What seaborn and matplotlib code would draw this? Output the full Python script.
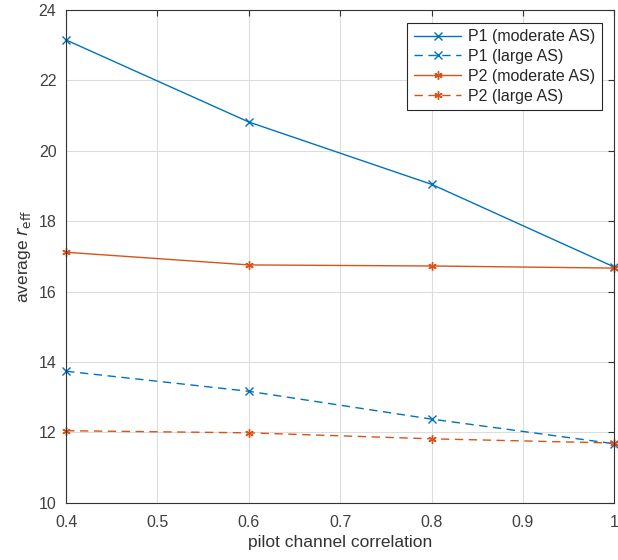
import pandas as pd
import seaborn as sns
import matplotlib.pyplot as plt

# データ
corr = [0.4, 0.6, 0.8, 1.0]
p1_moderate = [23.15, 20.82, 19.05, 16.70]
p1_large = [13.74, 13.17, 12.38, 11.68]
p2_moderate = [17.12, 16.76, 16.73, 16.67]
p2_large = [12.05, 11.99, 11.82, 11.70]
labels = ["P1 (moderate AS)", "P1 (large AS)", "P2 (moderate AS)", "P2 (large AS)"]

rows = []
for lab, vals in zip(labels, [p1_moderate, p1_large, p2_moderate, p2_large]):
    for c, v in zip(corr, vals):
        rows.append({"corr": c, "r": v, "series": lab})
df = pd.DataFrame(rows)

sns.set_style("white")
plt.rcParams['font.family'] = ['Liberation Sans', 'DejaVu Sans']

blue = "#0072BD"
orange = "#D95319"
palette = {labels[0]: blue, labels[1]: blue, labels[2]: orange, labels[3]: orange}
dashes = {labels[0]: "", labels[1]: (6, 4), labels[2]: "", labels[3]: (6, 4)}
markers = {labels[0]: "x", labels[1]: "x", labels[2]: (6, 2, 0), labels[3]: (6, 2, 0)}

fig = plt.figure(figsize=(6.18, 5.6), dpi=100)
ax = fig.add_axes([0.107, 0.102, 0.887, 0.880])
sns.lineplot(data=df, x="corr", y="r", hue="series", style="series",
             palette=palette, dashes=dashes, markers=markers,
             markersize=6, linewidth=1.0, ax=ax, legend=False)

# マーカーの色を線と合わせる
for ln, lab in zip(ax.lines, labels):
    ln.set_markeredgecolor(ln.get_color())
    ln.set_markerfacecolor("none")
    ln.set_markeredgewidth(1.0)
    ln.set_label(lab)
    ln.set_clip_on(False)

ax.set_xlim(0.4, 1.0)
ax.set_ylim(10, 24)
ax.set_xticks([0.4, 0.5, 0.6, 0.7, 0.8, 0.9, 1.0])
ax.set_xticklabels(["0.4", "0.5", "0.6", "0.7", "0.8", "0.9", "1"])
ax.set_yticks(range(10, 25, 2))
ax.grid(True, color="#dddddd", linewidth=0.8)
ax.tick_params(direction="in", top=True, right=True, length=4, color="#333333",
               labelsize=11.5, labelcolor="#404040")
ax.tick_params(axis="x", pad=9)
ax.tick_params(axis="y", pad=7)
for s in ax.spines.values():
    s.set_color("#333333")
    s.set_linewidth(0.8)
ax.set_xlabel("pilot channel correlation", fontsize=12.5, color="#333333", labelpad=3)
ax.set_ylabel(r"average $r_{\mathrm{eff}}$", fontsize=12.5, color="#333333", labelpad=4)

leg = ax.legend(handles=ax.lines[:4], loc="upper right", fontsize=11.5, frameon=True,
                fancybox=False, edgecolor="#262626", framealpha=1, handlelength=3.0,
                handletextpad=0.4, borderaxespad=0.8, labelspacing=0.3, borderpad=0.4)
leg.get_frame().set_linewidth(0.8)

fig.savefig("out.png", dpi=100)
